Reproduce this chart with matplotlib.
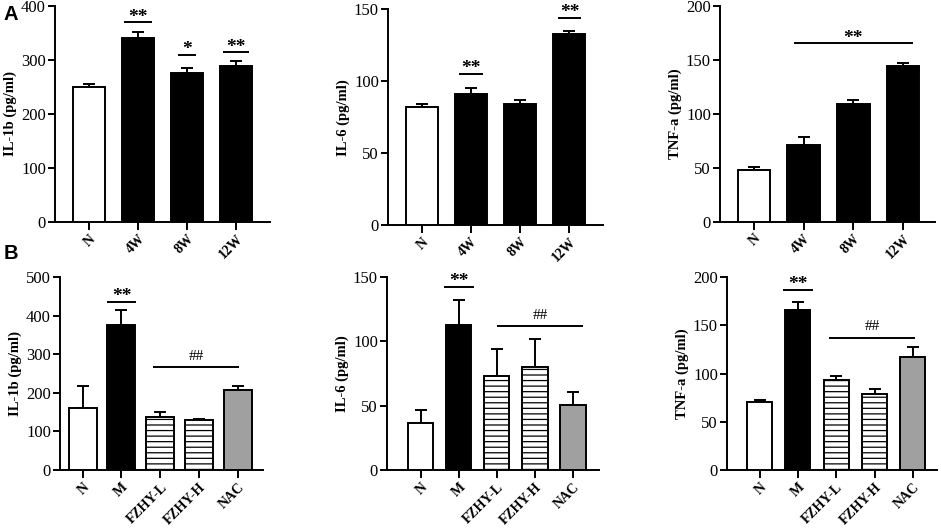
import matplotlib
matplotlib.use('Agg')
import matplotlib.pyplot as plt

plt.rcParams['font.family'] = ['Liberation Serif', 'DejaVu Serif']
plt.rcParams['hatch.linewidth'] = 0.9
plt.rcParams['hatch.color'] = '#222222'

# ---------------- data ----------------
cats_A = ['N', '4W', '8W', '12W']
il1b_A = [250.6, 340.7, 275, 288]
il1b_A_err = [4.4, 11, 11, 10]
il6_A = [82.3, 90.9, 84.4, 132.8]
il6_A_err = [1.6, 4.4, 2.3, 1.9]
tnf_A = [48.2, 70.8, 109.4, 144.7]
tnf_A_err = [2.5, 7.7, 3.7, 2.4]

cats_B = ['N', 'M', 'FZHY-L', 'FZHY-H', 'NAC']
il1b_B = [161.8, 376, 138, 130, 207.6]
il1b_B_err = [56, 38, 12, 3, 10.5]
il6_B = [36.9, 112.4, 73.2, 80.4, 50.6]
il6_B_err = [9.8, 20, 21, 21.6, 9.9]
tnf_B = [70.2, 166, 93.4, 78.9, 117]
tnf_B_err = [2.5, 7.7, 4.5, 5.2, 10.3]

ylabels = ['IL-1b (pg/ml)', 'IL-6 (pg/ml)', 'TNF-a (pg/ml)']

# significance marks: (x_start, x_end, line height, label)
sig_A1 = [(0.72, 1.28, 370, '**'), (1.81, 2.19, 309, '*'), (2.73, 3.27, 314, '**')]
sig_A2 = [(0.76, 1.24, 105.3, '**'), (2.76, 3.24, 144.2, '**')]
sig_A3 = [(0.8, 3.2, 165.4, '**')]
sig_B1 = [(0.62, 1.38, 437, '**'), (1.82, 4.03, 266, '##')]
sig_B2 = [(0.61, 1.39, 142.2, '**'), (2.0, 4.26, 111.6, '##')]
sig_B3 = [(0.61, 1.39, 186.9, '**'), (1.82, 4.05, 136.7, '##')]

# ---------------- styling ----------------
colors_A = ['white', 'black', 'black', 'black']
hatch_A = [None, None, None, None]
colors_B = ['white', 'black', 'white', 'white', '#a0a0a0']
hatch_B = [None, None, '---', '---', None]

W, H = 941, 528
fig = plt.figure(figsize=(W / 100, H / 100), dpi=100)

def px_rect(left, right, top, bottom):
    return [left / W, 1 - bottom / H, (right - left) / W, (bottom - top) / H]

panels = [
    (px_rect(55, 270, 6, 222), cats_A, il1b_A, il1b_A_err, 400, 100, ylabels[0], sig_A1, colors_A, hatch_A, (-0.69, 3.69), 0.65),
    (px_rect(388, 603, 9.3, 225), cats_A, il6_A, il6_A_err, 150, 50, ylabels[1], sig_A2, colors_A, hatch_A, (-0.68, 3.68), 0.65),
    (px_rect(720, 935, 6, 221.7), cats_A, tnf_A, tnf_A_err, 200, 50, ylabels[2], sig_A3, colors_A, hatch_A, (-0.68, 3.64), 0.65),
    (px_rect(60, 263, 277.3, 470), cats_B, il1b_B, il1b_B_err, 500, 100, ylabels[0], sig_B1, colors_B, hatch_B, (-0.58, 4.64), 0.72),
    (px_rect(387, 599, 277, 470), cats_B, il6_B, il6_B_err, 150, 50, ylabels[1], sig_B2, colors_B, hatch_B, (-0.88, 4.68), 0.66),
    (px_rect(727, 937, 277, 470), cats_B, tnf_B, tnf_B_err, 200, 50, ylabels[2], sig_B3, colors_B, hatch_B, (-0.85, 4.63), 0.65),
]

LW = 1.4
for rect, cats, vals, errs, ytop, step, ylab, sigs, cols, hatches, xlim, width in panels:
    ax = fig.add_axes(rect)
    x = list(range(len(cats)))
    bars = ax.bar(x, vals, width=width, color=cols, edgecolor='black', linewidth=LW, zorder=3)
    for b, h in zip(bars, hatches):
        if h:
            b.set_hatch(h)
    ax.errorbar(x, vals, yerr=[[0] * len(errs), errs], fmt='none', ecolor='black',
                elinewidth=LW, capsize=4.3, capthick=LW, zorder=2)
    ax.set_xlim(*xlim)
    ax.set_ylim(0, ytop)
    ax.set_yticks(range(0, ytop + 1, step))
    ax.set_xticks(x)
    ax.set_xticklabels(cats, rotation=45, ha='right', rotation_mode='anchor',
                       fontweight='bold', fontsize=10)
    ax.tick_params(axis='y', labelsize=12, width=LW, length=5, pad=1.5)
    ax.tick_params(axis='x', width=LW, length=5.5, pad=2)
    for s in ['top', 'right']:
        ax.spines[s].set_visible(False)
    for s in ['left', 'bottom']:
        ax.spines[s].set_linewidth(LW)
    ax.set_ylabel(ylab, fontweight='bold', fontsize=10.5, labelpad=3)
    for x0, x1, yl, lab in sigs:
        ax.plot([x0, x1], [yl, yl], color='black', lw=LW, clip_on=False, solid_capstyle='butt')
        if lab == '##':
            ax.annotate(lab, ((x0 + x1) / 2, yl), xytext=(0, 5.5), textcoords='offset points',
                        ha='center', va='baseline', fontsize=11, annotation_clip=False)
        else:
            ax.annotate(lab, ((x0 + x1) / 2, yl), xytext=(0, 0.5), textcoords='offset points',
                        ha='center', va='baseline', fontsize=14, fontweight='bold',
                        annotation_clip=False)

fig.text(3 / W, 1 - 14 / H, 'A', fontsize=14.5, fontweight='bold',
         family=['Liberation Sans', 'DejaVu Sans'], va='center', ha='left')
fig.text(4 / W, 1 - 253 / H, 'B', fontsize=14.5, fontweight='bold',
         family=['Liberation Sans', 'DejaVu Sans'], va='center', ha='left')

fig.savefig('out.png', dpi=100)
